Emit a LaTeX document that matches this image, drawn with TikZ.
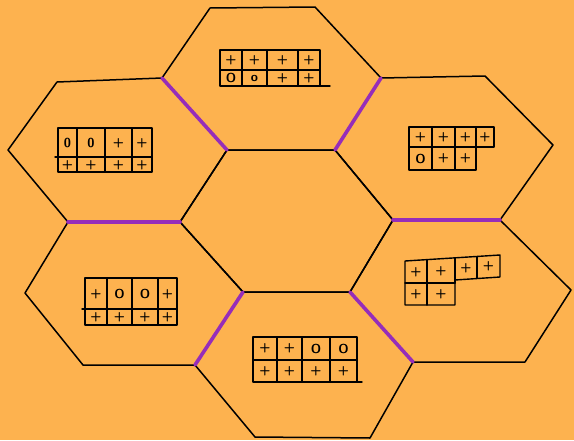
\documentclass[tikz,border=0pt]{standalone}
\definecolor{bgorange}{RGB}{253,178,79}
\definecolor{hexpurple}{RGB}{150,45,185}
\begin{document}
\begin{tikzpicture}[x=1pt,y=-1pt,
  edge/.style={line width=1.5pt, line cap=round, line join=round},
  purp/.style={line width=3.6pt, draw=hexpurple, line cap=round},
  gridline/.style={line width=1.4pt, line cap=round, line join=round},
  sym/.style={font=\fontsize{13}{13}\selectfont\sffamily\bfseries, inner sep=0pt}]
\fill[bgorange] (0,0) rectangle (574,440);
\useasboundingbox (0,0) rectangle (574,440);
% hexagon vertices
\coordinate (A) at (210,8);
\coordinate (B) at (315,7);
\coordinate (C) at (381,78);
\coordinate (D) at (335,150);
\coordinate (E) at (227,150);
\coordinate (F) at (162,78);
\coordinate (G) at (57,82);
\coordinate (H) at (8,150);
\coordinate (I) at (68,222);
\coordinate (J) at (180,222);
\coordinate (K) at (393,220);
\coordinate (L) at (485,76);
\coordinate (M) at (553,145);
\coordinate (N) at (500,220);
\coordinate (O) at (243,292);
\coordinate (P) at (350,292);
\coordinate (Q) at (25,293);
\coordinate (R) at (83,365);
\coordinate (S) at (195,365);
\coordinate (T) at (571,290);
\coordinate (U) at (525,362);
\coordinate (V) at (413,362);
\coordinate (W) at (370,438);
\coordinate (X) at (255,437);
% hexagons
\draw[edge] (A)--(B)--(C)--(D)--(E)--(F)--cycle;
\draw[edge] (E)--(D)--(K)--(P)--(O)--(J)--cycle;
\draw[edge] (G)--(F)--(E)--(J)--(I)--(H)--cycle;
\draw[edge] (C)--(L)--(M)--(N)--(K)--(D)--cycle;
\draw[edge] (I)--(J)--(O)--(S)--(R)--(Q)--cycle;
\draw[edge] (K)--(N)--(T)--(U)--(V)--(P)--cycle;
\draw[edge] (O)--(P)--(V)--(W)--(X)--(S)--cycle;
% purple edges
\draw[purp] (F)--(E);
\draw[purp] (C)--(D);
\draw[purp] (I)--(J);
\draw[purp] (K)--(N);
\draw[purp] (O)--(S);
\draw[purp] (P)--(V);
% top grid
\draw[gridline] (220,50) rectangle (320,86);
\draw[gridline] (220,70)--(320,70) (320,86)--(330,86);
\draw[gridline] (242,50)--(242,86) (267,50)--(267,86) (298,50)--(298,86);
\node[sym] (t1) at (231,60) {+};
\node[sym] (t2) at (254.5,60) {+};
\node[sym] (t3) at (282.5,60) {+};
\node[sym] (t4) at (309,60) {+};
\node[sym] (t5) at (231,78) {O};
\node[sym] (t6) at (254.5,78) {o};
\node[sym] (t7) at (282.5,78) {+};
\node[sym] (t8) at (309,78) {+};
% upper-left grid
\draw[gridline] (58,128) rectangle (152,172);
\draw[gridline] (55,157)--(152,157);
\draw[gridline] (77,128)--(77,172) (105,128)--(105,172) (132,128)--(132,172);
\node[sym] (a1) at (67.5,143) {0};
\node[sym] (a2) at (91,143) {0};
\node[sym] (a3) at (118.5,143) {+};
\node[sym] (a4) at (142,143) {+};
\node[sym] (a5) at (67.5,165) {+};
\node[sym] (a6) at (91,165) {+};
\node[sym] (a7) at (118.5,165) {+};
\node[sym] (a8) at (142,165) {+};
% upper-right grid
\draw[gridline] (409,127)--(494,127)--(494,147)--(476,147)--(476,170)--(409,170)--cycle;
\draw[gridline] (409,147)--(476,147);
\draw[gridline] (432,127)--(432,170) (455,127)--(455,170) (476,127)--(476,147);
\node[sym] (b1) at (420.5,137) {+};
\node[sym] (b2) at (443.5,137) {+};
\node[sym] (b3) at (465.5,137) {+};
\node[sym] (b4) at (485,137) {+};
\node[sym] (b5) at (420.5,158.5) {O};
\node[sym] (b6) at (443.5,158.5) {+};
\node[sym] (b7) at (465.5,158.5) {+};
% lower-left grid
\draw[gridline] (85,278) rectangle (177,325);
\draw[gridline] (82,309)--(177,309);
\draw[gridline] (107,278)--(107,325) (132,278)--(132,325) (158,278)--(158,325);
\node[sym] (c1) at (96,294) {+};
\node[sym] (c2) at (119.5,294) {O};
\node[sym] (c3) at (145,294) {O};
\node[sym] (c4) at (167.5,294) {+};
\node[sym] (c5) at (96,317) {+};
\node[sym] (c6) at (119.5,317) {+};
\node[sym] (c7) at (145,317) {+};
\node[sym] (c8) at (167.5,317) {+};
% lower-right grid
\draw[gridline] (405,261)--(500,255)--(500,277)--(455,280)--(455,305)--(405,305)--cycle;
\draw[gridline] (405,283)--(455,283);
\draw[gridline] (427,260)--(427,305) (455,258)--(455,283) (477,257)--(477,278);
\node[sym] (d1) at (416,272) {+};
\node[sym] (d2) at (441,271) {+};
\node[sym] (d3) at (466,268) {+};
\node[sym] (d4) at (488.5,266) {+};
\node[sym] (d5) at (416,294) {+};
\node[sym] (d6) at (441,294) {+};
% bottom grid
\draw[gridline] (253,337) rectangle (357,382);
\draw[gridline] (253,360)--(357,360) (357,382)--(362,382);
\draw[gridline] (277,337)--(277,382) (302,337)--(302,382) (330,337)--(330,382);
\node[sym] (e1) at (265,348.5) {+};
\node[sym] (e2) at (289.5,348.5) {+};
\node[sym] (e3) at (316,348.5) {O};
\node[sym] (e4) at (343.5,348.5) {O};
\node[sym] (e5) at (265,371) {+};
\node[sym] (e6) at (289.5,371) {+};
\node[sym] (e7) at (316,371) {+};
\node[sym] (e8) at (343.5,371) {+};
\end{tikzpicture}
\end{document}
